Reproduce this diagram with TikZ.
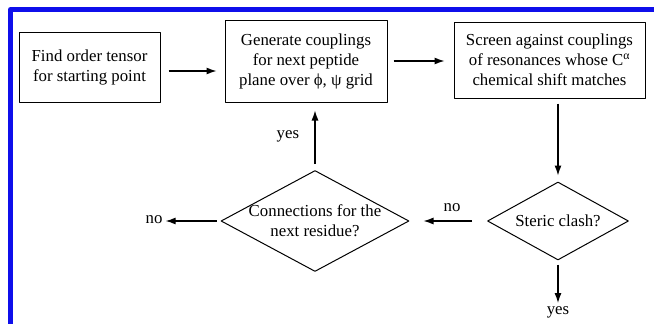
\documentclass[tikz,border=0pt]{standalone}
\usepackage{fontspec}
\setmainfont{Liberation Serif}
\usetikzlibrary{shapes.geometric,arrows.meta}
\definecolor{frameblue}{RGB}{15,15,235}
\begin{document}
\begin{tikzpicture}[x=1pt,y=-1pt,>={Latex[length=10pt,width=7pt]},line join=round,
	font=\fontsize{16.8}{20}\selectfont,
	stepbox/.style={draw,line width=1pt,align=center,inner sep=0pt},
	test/.style={draw,diamond,line width=1pt,inner sep=0pt},
	flow/.style={->,line width=1.2pt}]
	\useasboundingbox (0,0) rectangle (654,324);
	% khung xanh
	\draw[frameblue,line width=5pt] (10.5,324)--(10.5,9.5)--(654,9.5);
	% cac buoc
	\node[stepbox,minimum width=141,minimum height=70] (find) at (89.5,67) {Find order tensor\\for starting point};
	\node[stepbox,minimum width=162,minimum height=82] (gen) at (306,61) {Generate couplings\\for next peptide\\plane over ϕ, ψ grid};
	\node[stepbox,minimum width=191,minimum height=76] (screen) at (549.5,60) {Screen against couplings\\of resonances whose C\textsuperscript{α}\\chemical shift matches};
	% cac cau hoi (chu dat rieng, hinh thoi co kich thuoc co dinh)
	\node[test,minimum width=141,minimum height=78,label={center:Steric clash?}] (steric) at (558,221) {};
	\node[test,minimum width=188,minimum height=101,
		label={[align=center]center:Connections for the\\next residue?}] (conn) at (315,221) {};
	\node[inner sep=1pt] (noend) at (154,220) {no};
	\node[inner sep=1pt] (yesend) at (558,312) {yes};
	% mui ten
	\draw[flow,shorten <=8,shorten >=8] ([yshift=-4pt]find.east)--([yshift=-4pt]find.east -| gen.west);
	\draw[flow,shorten <=6,shorten >=9] (gen.east)--(gen.east -| screen.west);
	\draw[flow,shorten <=5,shorten >=6] (steric.north |- screen.south)--(steric.north);
	\draw[flow,shorten <=15,shorten >=14] (steric.west)--(conn.east) node[pos=0.45,above=5pt]{no};
	\draw[flow,shorten <=4,shorten >=2] (conn.west)--(conn.west -| noend.east);
	\draw[flow,shorten <=6,shorten >=8] (conn.north)--(conn.north |- gen.south) node[midway,left=12pt]{yes};
	\draw[flow,shorten <=4,shorten >=2] (steric.south)--(yesend.north);
\end{tikzpicture}
\end{document}
